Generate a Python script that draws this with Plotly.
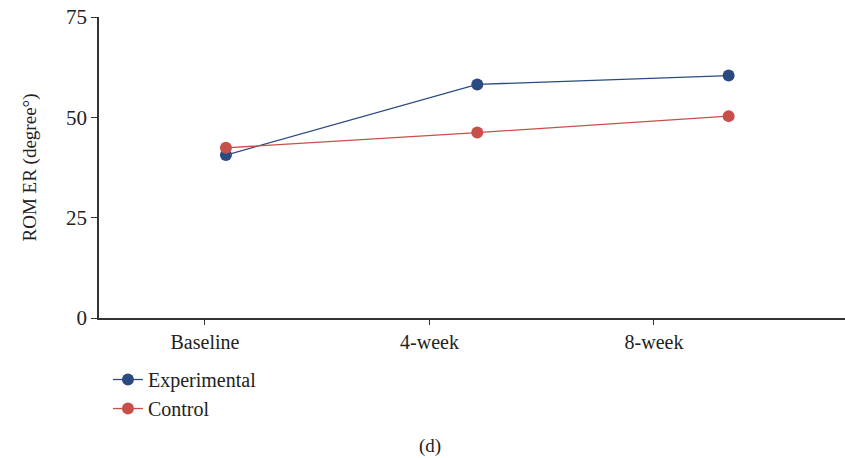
import plotly.graph_objects as go

categories = ["Baseline", "4-week", "8-week"]
experimental = [40.6, 58.2, 60.4]
control = [42.4, 46.2, 50.3]
y_ticks = [0, 25, 50, 75]

BLUE = "#2b4a82"
RED = "#c8504a"
FONT = "Liberation Serif"
TXT = "#222222"

fig = go.Figure()
# anchor trace for the labelled category axis
fig.add_trace(go.Scatter(
    x=categories, y=[None] * len(categories), mode="lines", xaxis="x",
    showlegend=False, hoverinfo="skip"))
fig.add_trace(go.Scatter(
    x=categories, y=experimental, name="Experimental", mode="lines+markers",
    xaxis="x2", line=dict(color=BLUE, width=1.3),
    marker=dict(color=BLUE, size=12)))
fig.add_trace(go.Scatter(
    x=categories, y=control, name="Control", mode="lines+markers",
    xaxis="x2", line=dict(color=RED, width=1.3),
    marker=dict(color=RED, size=12)))

fig.update_layout(
    width=845, height=458,
    margin=dict(l=99, r=0, t=17, b=140, autoexpand=False),
    paper_bgcolor="white", plot_bgcolor="white",
    font=dict(family=FONT, size=18, color=TXT),
    showlegend=True,
    legend=dict(x=0.012, y=-0.1396, xanchor="left", yanchor="top",
                font=dict(family=FONT, size=20, color=TXT),
                bgcolor="rgba(0,0,0,0)", tracegroupgap=0, itemwidth=30),
    xaxis=dict(type="category", categoryarray=categories, range=[-0.472, 2.851],
               showgrid=False, zeroline=False, showline=True, linecolor="#333333",
               linewidth=1.5, ticks="outside", ticklen=5, tickcolor="#333333",
               tickfont=dict(family=FONT, size=20, color=TXT)),
    xaxis2=dict(overlaying="x", type="category", categoryarray=categories,
                range=[-0.505, 2.463], visible=False),
    yaxis=dict(range=[0, 75], tickvals=y_ticks, showgrid=False, zeroline=False,
               showline=True, linecolor="#333333", linewidth=1.5,
               ticks="outside", ticklen=6, tickcolor="#333333",
               tickfont=dict(family=FONT, size=21, color=TXT),
               title=dict(text="ROM ER (degree°)", standoff=24,
                          font=dict(family=FONT, size=19, color=TXT))),
    annotations=[dict(text="(d)", x=0.4437, y=-0.424, xref="paper", yref="paper",
                      showarrow=False, xanchor="center", yanchor="middle",
                      font=dict(family=FONT, size=19, color=TXT))],
)

fig.write_html("out.html", config={"displayModeBar": False},
               post_script="document.body.style.margin='0';document.body.style.overflow='hidden';")
